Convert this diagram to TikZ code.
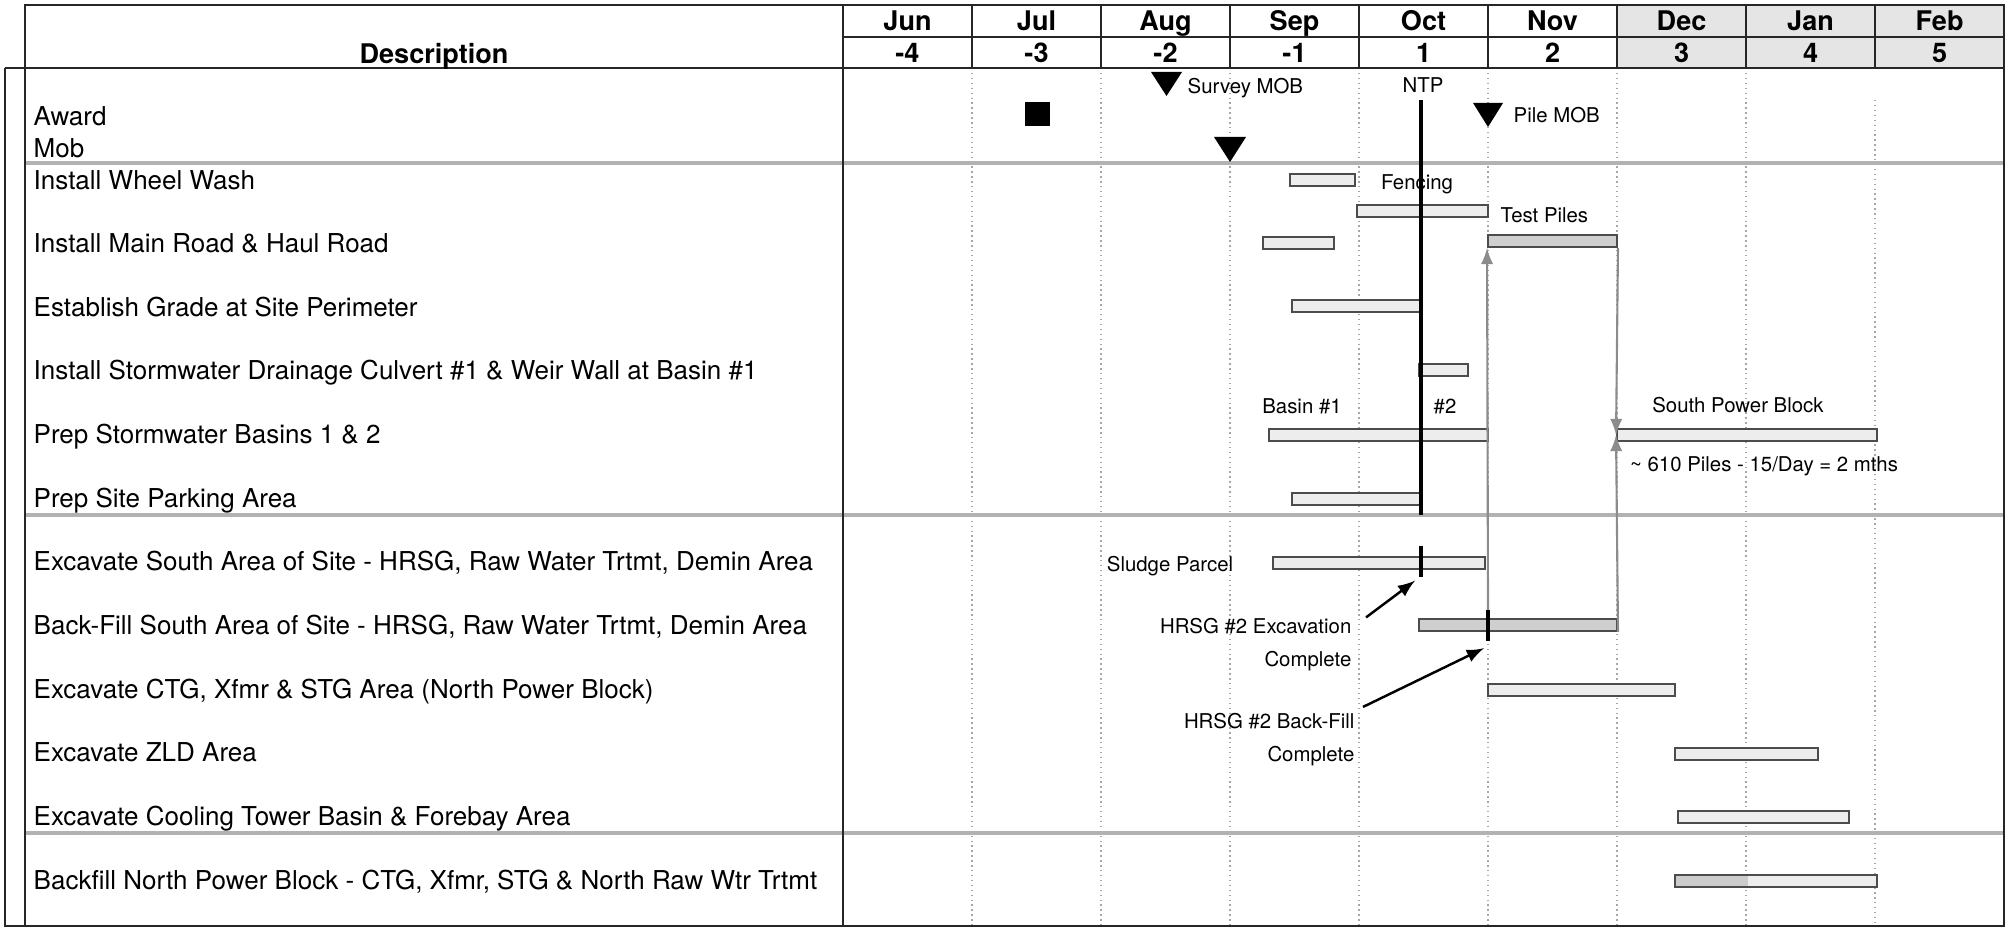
\documentclass[tikz,border=0pt]{standalone}
\usepackage{fontspec}
\setmainfont{TeX Gyre Heros}

\begin{document}
\begin{tikzpicture}[x=1cm, y=-1cm, >=latex,
    frame/.style={black!85, line width=0.8pt},
    gridline/.style={black!35, densely dotted, line width=0.4pt},
    rowsep/.style={black!30, line width=0.9pt},
    bar/.style={draw=black!70, fill=black!7, line width=0.55pt, inner sep=0pt, minimum height=0.12cm},
    darkbar/.style={bar, fill=black!19},
    tick/.style={fill=black, inner sep=0pt, minimum width=0.035cm, minimum height=0.31cm},
    link/.style={->, black!45, line width=0.6pt},
    pointer/.style={->, black, line width=0.7pt},
    task/.style={anchor=west, inner sep=0pt, text height=0.18cm, text depth=0cm, font=\fontsize{7.4}{8}\selectfont},
    lbl/.style={inner sep=0pt, text height=0.15cm, text depth=0cm, font=\fontsize{5.8}{7}\selectfont},
    hlbl/.style={inner sep=0pt, align=right, font=\fontsize{5.8}{9.4}\selectfont},
    head/.style={inner sep=0pt, text height=0.2cm, text depth=0cm, font=\bfseries\fontsize{7.7}{9}\selectfont}]
\useasboundingbox (0,0) rectangle (20.13,9.28);
\fill[black!10] (16.17,0.05) rectangle (20.04,0.68);
\draw[gridline] (9.72,0.68) -- (9.72,9.26) (11.01,0.68) -- (11.01,9.26)
    (12.30,0.68) -- (12.30,9.26) (13.59,0.68) -- (13.59,9.26)
    (14.88,0.68) -- (14.88,9.26) (16.17,0.68) -- (16.17,9.26)
    (17.46,0.68) -- (17.46,9.26) (18.75,1.00) -- (18.75,9.26);
\draw[rowsep] (0.25,1.63) -- (20.04,1.63);
\draw[rowsep] (0.25,5.15) -- (20.04,5.15);
\draw[rowsep] (0.25,8.33) -- (20.04,8.33);
\draw[frame] (0.25,0.05) rectangle (20.04,0.68);
\draw[frame] (8.43,0.37) -- (20.04,0.37);
\draw[frame] (8.43,0.05) -- (8.43,9.26) (9.72,0.05) -- (9.72,0.68)
    (11.01,0.05) -- (11.01,0.68) (12.30,0.05) -- (12.30,0.68)
    (13.59,0.05) -- (13.59,0.68) (14.88,0.05) -- (14.88,0.68)
    (16.17,0.05) -- (16.17,0.68) (17.46,0.05) -- (17.46,0.68)
    (18.75,0.05) -- (18.75,0.68);
\draw[frame] (0.05,0.68) -- (0.25,0.68) (0.05,0.68) -- (0.05,9.26) -- (20.04,9.26) -- (20.04,0.68);
\draw[frame] (0.25,0.68) -- (0.25,9.26);

\node[head] (desc) at (4.34,0.54) {Description};
\draw (9.075,0.21) node[head] (m1) {Jun} (10.365,0.21) node[head] (m2) {Jul}
      (11.655,0.21) node[head] (m3) {Aug} (12.945,0.21) node[head] (m4) {Sep}
      (14.235,0.21) node[head] (m5) {Oct} (15.525,0.21) node[head] (m6) {Nov}
      (16.815,0.21) node[head] (m7) {Dec} (18.105,0.21) node[head] (m8) {Jan}
      (19.395,0.21) node[head] (m9) {Feb};
\draw (9.075,0.53) node[head] (n1) {-4} (10.365,0.53) node[head] (n2) {-3}
      (11.655,0.53) node[head] (n3) {-2} (12.945,0.53) node[head] (n4) {-1}
      (14.235,0.53) node[head] (n5) {1} (15.525,0.53) node[head] (n6) {2}
      (16.815,0.53) node[head] (n7) {3} (18.105,0.53) node[head] (n8) {4}
      (19.395,0.53) node[head] (n9) {5};

\node[task] (t1) at (0.33,1.17) {Award};
\node[task] (t2) at (0.33,1.49) {Mob};
\node[task] (t3) at (0.33,1.81) {Install Wheel Wash};
\node[task] (t4) at (0.33,2.44) {Install Main Road \& Haul Road};
\node[task] (t5) at (0.33,3.08) {Establish Grade at Site Perimeter};
\node[task] (t6) at (0.33,3.71) {Install Stormwater Drainage Culvert \#1 \& Weir Wall at Basin \#1};
\node[task] (t7) at (0.33,4.35) {Prep Stormwater Basins 1 \& 2};
\node[task] (t8) at (0.33,4.99) {Prep Site Parking Area};
\node[task] (t9) at (0.33,5.62) {Excavate South Area of Site - HRSG, Raw Water Trtmt, Demin Area};
\node[task] (t10) at (0.33,6.26) {Back-Fill South Area of Site - HRSG, Raw Water Trtmt, Demin Area};
\node[task] (t11) at (0.33,6.90) {Excavate CTG, Xfmr \& STG Area (North Power Block)};
\node[task] (t12) at (0.33,7.53) {Excavate ZLD Area};
\node[task] (t13) at (0.33,8.17) {Excavate Cooling Tower Basin \& Forebay Area};
\node[task] (t14) at (0.33,8.81) {Backfill North Power Block - CTG, Xfmr, STG \& North Raw Wtr Trtmt};

\fill (10.25,1.02) rectangle (10.50,1.26);
\fill (11.51,0.72) -- (11.82,0.72) -- (11.665,0.96) -- cycle;
\fill (12.14,1.37) -- (12.46,1.37) -- (12.30,1.62) -- cycle;
\fill (14.73,1.03) -- (15.03,1.03) -- (14.88,1.27) -- cycle;
\node[lbl, anchor=west] (survey) at (11.87,0.86) {Survey MOB};
\node[lbl] (ntp) at (14.23,0.85) {NTP};
\node[lbl, anchor=west] (pilemob) at (15.13,1.15) {Pile MOB};

\node[bar, minimum width=0.65cm] (wash) at (13.225,1.80) {};
\node[bar, minimum width=1.31cm] (fence) at (14.225,2.11) {};
\node[bar, minimum width=0.71cm] (road) at (12.985,2.43) {};
\node[darkbar, minimum width=1.29cm] (piles) at (15.525,2.41) {};
\node[bar, minimum width=1.28cm] (grade) at (13.56,3.06) {};
\node[bar, minimum width=0.49cm] (culvert) at (14.435,3.70) {};
\node[bar, minimum width=1.51cm] (basin1) at (13.445,4.35) {};
\node[bar, minimum width=0.68cm] (basin2) at (14.54,4.35) {};
\node[bar, minimum width=2.60cm] (spb) at (17.47,4.35) {};
\node[bar, minimum width=1.28cm] (parking) at (13.56,4.99) {};
\node[bar, minimum width=2.12cm] (exsouth) at (13.79,5.63) {};
\node[darkbar, minimum width=1.98cm] (bfsouth) at (15.18,6.25) {};
\node[bar, minimum width=1.87cm] (ctg) at (15.815,6.90) {};
\node[bar, minimum width=1.43cm] (zld) at (17.465,7.54) {};
\node[bar, minimum width=1.71cm] (cool) at (17.635,8.17) {};
\node[bar, minimum width=2.02cm, path picture={\fill[black!20] (path picture bounding box.south west) rectangle ([xshift=0.73cm]path picture bounding box.north west);}] (bfnorth) at (17.76,8.81) {};

\node[lbl] (fencelbl) at (14.17,1.82) {Fencing};
\node[lbl, anchor=west] (pilelbl) at (15.00,2.15) {Test Piles};
\node[lbl] (b1lbl) at (13.02,4.06) {Basin \#1};
\node[lbl] (b2lbl) at (14.45,4.06) {\#2};
\node[lbl] (spblbl) at (17.38,4.05) {South Power Block};
\node[lbl] (ratelbl) at (17.64,4.64) {\textasciitilde{} 610 Piles - 15/Day = 2 mths};
\node[lbl] (sludge) at (11.70,5.64) {Sludge Parcel};
\draw[line width=0.9pt] (14.21,1.00) -- (14.21,5.15);

\node[tick] (exdone) at (14.21,5.615) {};
\node[tick] (bfdone) at (14.88,6.26) {};
\draw[link] (bfdone.north) -- (piles.south west);
\draw[link] (piles.south east) -- (spb.west);
\draw[link] (bfsouth.south east) -- (spb.west);

\node[hlbl, anchor=east] (exlbl) at (13.52,6.445) {HRSG \#2 Excavation\\Complete};
\node[hlbl, anchor=east] (bflbl) at (13.55,7.40) {HRSG \#2 Back-Fill\\Complete};
\draw[pointer] ([xshift=0.14cm]exlbl.north east) -- ([xshift=-0.06cm,yshift=-0.03cm]exdone.south);
\draw[pointer] ([xshift=0.08cm,yshift=0.06cm]bflbl.north east) -- ([xshift=-0.04cm,yshift=-0.06cm]bfdone.south);
\end{tikzpicture}
\end{document}
